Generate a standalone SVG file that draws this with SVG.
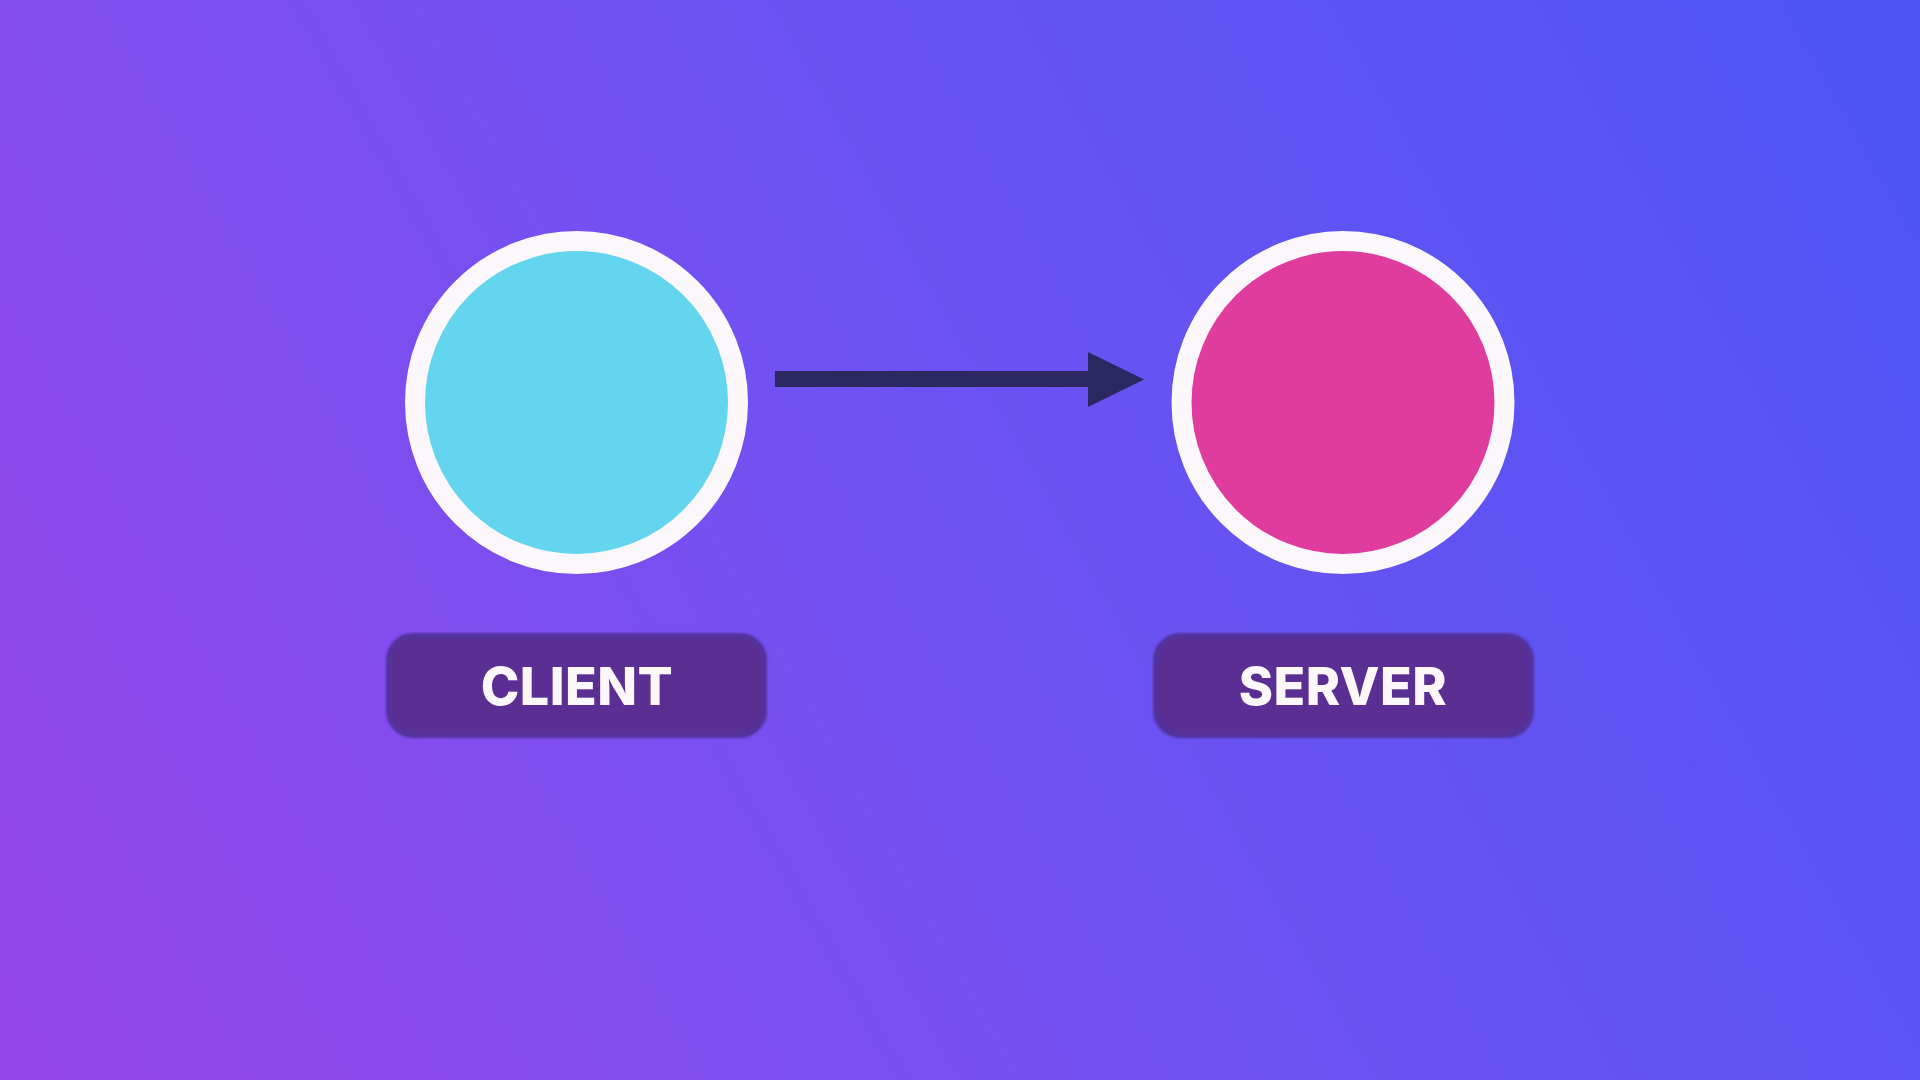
<svg xmlns="http://www.w3.org/2000/svg" width="1920" height="1080" viewBox="0 0 1920 1080">
  <defs>
    <linearGradient id="bg" x1="0" y1="1080" x2="1920" y2="0" gradientUnits="userSpaceOnUse">
      <stop offset="0" stop-color="#9646EA"/>
      <stop offset="0.5" stop-color="#6E52F2"/>
      <stop offset="1" stop-color="#4B55F3"/>
    </linearGradient>
    <filter id="soft" x="-5%" y="-10%" width="110%" height="120%">
      <feGaussianBlur stdDeviation="1"/>
    </filter>
  </defs>
  <style>
    .ring { stroke: #FBF7FB; stroke-width: 20; }
    .pill { fill: #5A2E93; stroke: #53309B; stroke-width: 6; }
    .label { font-family: Inter, "Liberation Sans", sans-serif; font-weight: 800; font-size: 52px; fill: #FBF7FB; text-anchor: middle; letter-spacing: 0.5px; }
    .conn { fill: #2B2760; }
  </style>
  <rect width="1920" height="1080" fill="url(#bg)"/>
  <g id="client">
    <circle class="ring" cx="576.5" cy="402.5" r="161.5" fill="#63D5EE"/>
    <rect class="pill" x="389" y="636" width="375" height="99" rx="24" filter="url(#soft)"/>
    <text class="label" x="577" y="705">CLIENT</text>
  </g>
  <g id="server">
    <circle class="ring" cx="1343" cy="402.5" r="161.5" fill="#E03C9D"/>
    <rect class="pill" x="1156" y="636" width="375" height="99" rx="24" filter="url(#soft)"/>
    <text class="label" x="1343" y="705">SERVER</text>
  </g>
  <g id="connectors">
    <rect class="conn" x="775" y="371" width="314" height="16"/>
    <polygon class="conn" points="1088,352 1144,379.5 1088,407"/>
  </g>
</svg>
